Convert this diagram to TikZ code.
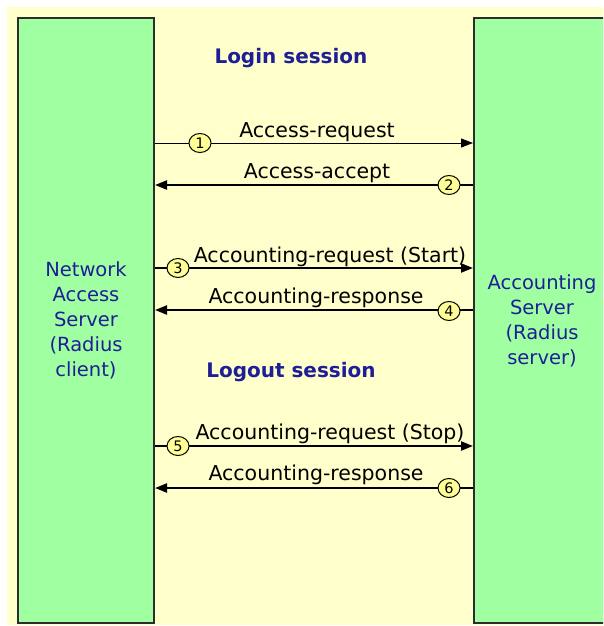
\documentclass[tikz,border=0pt]{standalone}
\usepackage{fontspec}
\setmainfont{DejaVu Sans}
\usetikzlibrary{arrows.meta}
\definecolor{bgyellow}{RGB}{255,255,204}
\definecolor{boxgreen}{RGB}{160,255,160}
\definecolor{numyellow}{RGB}{255,255,150}
\definecolor{labelblue}{RGB}{30,30,150}
\definecolor{edge}{RGB}{45,45,45}
\tikzset{
  party/.style={draw=edge, line width=2pt, fill=boxgreen, rectangle,
    minimum width=136pt, minimum height=605pt, inner sep=0pt,
    align=center, text=labelblue, font=\fontsize{19.5}{25}\selectfont},
  heading/.style={text=labelblue, font=\fontsize{20}{24}\selectfont\bfseries},
  msgtext/.style={font=\fontsize{20.5}{24}\selectfont, inner sep=0pt},
  thinmsg/.style={line width=1pt, -{Triangle[length=12pt,width=9pt]}},
  thickmsg/.style={line width=2.2pt, -{Triangle[length=12pt,width=9pt]}},
  num/.style={ellipse, draw=black, line width=1pt, fill=numyellow,
    minimum width=22pt, minimum height=19pt, inner sep=0pt,
    font=\fontsize{14.5}{15}\selectfont}
}
\usetikzlibrary{shapes.geometric}
\begin{document}
\begin{tikzpicture}[x=1pt,y=-1pt]
  \useasboundingbox (0,0) rectangle (603,626);
  \begin{scope}
    \clip (0,0) rectangle (603,626);
    \fill[bgyellow] (7,7) rectangle (620,625);
    \node[party] (nas) at (86,320.5) {Network\\Access\\Server\\(Radius\\client)};
    \node[party] (acct) at (542,320.5) {Accounting\\Server\\(Radius\\server)};
  \end{scope}

  % message rows
  \coordinate (r1) at (0,143);
  \coordinate (r2) at (0,185);
  \coordinate (r3) at (0,268);
  \coordinate (r4) at (0,310);
  \coordinate (r5) at (0,446);
  \coordinate (r6) at (0,488);

  \node[heading] (login) at (291,58) {Login session};
  \node[heading] (logout) at (291,372) {Logout session};

  \draw[thinmsg] (nas.east |- r1) -- (acct.west |- r1);
  \draw[thickmsg] (acct.west |- r2) -- (nas.east |- r2);
  \draw[thickmsg] (nas.east |- r3) -- (acct.west |- r3);
  \draw[thickmsg] (acct.west |- r4) -- (nas.east |- r4);
  \draw[thickmsg] (nas.east |- r5) -- (acct.west |- r5);
  \draw[thickmsg] (acct.west |- r6) -- (nas.east |- r6);

  \node[msgtext] (t1) at (317,132) {Access-request};
  \node[msgtext] (t2) at (317,173) {Access-accept};
  \node[msgtext] (t3) at (330,257) {Accounting-request (Start)};
  \node[msgtext] (t4) at (316,298) {Accounting-response};
  \node[msgtext] (t5) at (330,434) {Accounting-request (Stop)};
  \node[msgtext] (t6) at (316,475) {Accounting-response};

  \node[num] (n1) at (200,143) {1};
  \node[num] (n2) at (449,185) {2};
  \node[num] (n3) at (178,268) {3};
  \node[num] (n4) at (449,311) {4};
  \node[num] (n5) at (178,446) {5};
  \node[num] (n6) at (449,488) {6};
\end{tikzpicture}
\end{document}
